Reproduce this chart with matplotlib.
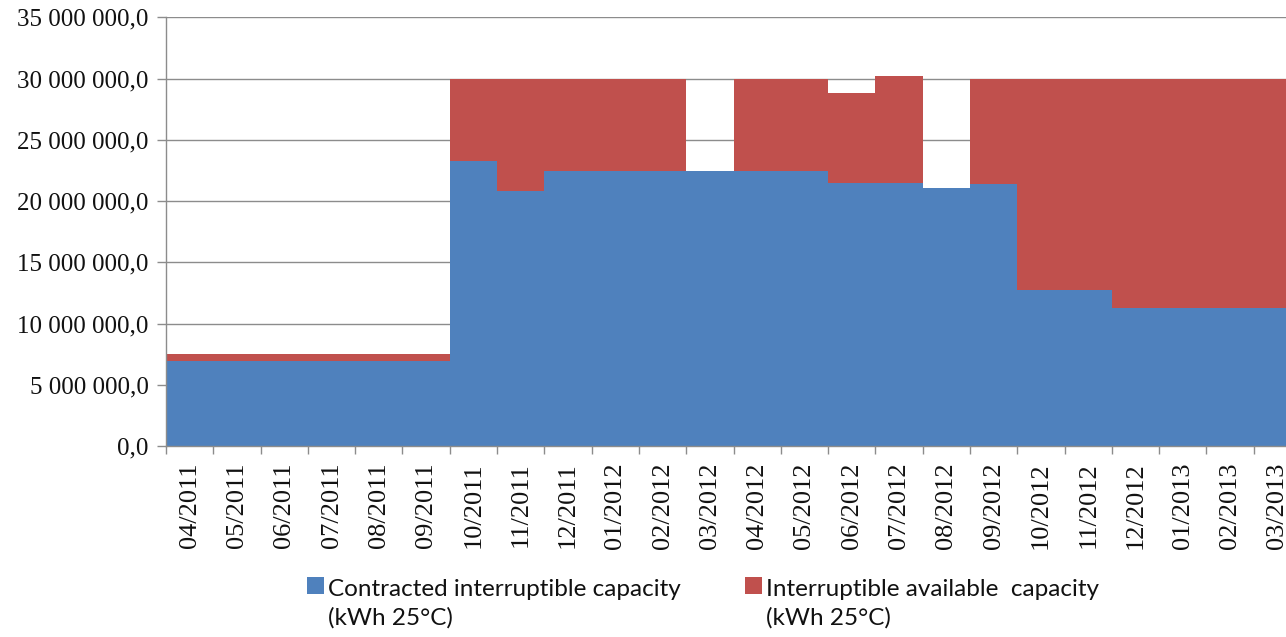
"""Interruptible capacity: contracted vs available, monthly stacked steps."""

import matplotlib
matplotlib.use("Agg")
import matplotlib.pyplot as plt
from matplotlib.patches import Rectangle
from matplotlib.ticker import FuncFormatter, MultipleLocator
import numpy as np

# Months shown on the x axis
MONTHS = [
    "04/2011", "05/2011", "06/2011", "07/2011", "08/2011", "09/2011",
    "10/2011", "11/2011", "12/2011", "01/2012", "02/2012", "03/2012",
    "04/2012", "05/2012", "06/2012", "07/2012", "08/2012", "09/2012",
    "10/2012", "11/2012", "12/2012", "01/2013", "02/2013", "03/2013",
]

# kWh 25°C
CONTRACTED = [
    6.9e6, 6.9e6, 6.9e6, 6.9e6, 6.9e6, 6.9e6,
    23.3e6, 20.85e6, 22.45e6, 22.45e6, 22.45e6, 22.45e6,
    22.45e6, 22.45e6, 21.45e6, 21.45e6, 21.05e6, 21.4e6,
    12.75e6, 12.75e6, 11.25e6, 11.25e6, 11.25e6, 11.25e6,
]
AVAILABLE = [
    0.6e6, 0.6e6, 0.6e6, 0.6e6, 0.6e6, 0.6e6,
    6.7e6, 9.15e6, 7.55e6, 7.55e6, 7.55e6, 0.0,
    7.55e6, 7.55e6, 7.35e6, 8.75e6, 0.0, 8.6e6,
    17.25e6, 17.25e6, 18.75e6, 18.75e6, 18.75e6, 18.75e6,
]

LEGEND_LABELS = [
    "Contracted interruptible capacity\n(kWh 25°C)",
    "Interruptible available  capacity\n(kWh 25°C)",
]

BLUE = "#4F81BD"
RED = "#C0504D"
GRID = "#8c8c8c"
TEXT = "#111111"

W, H = 1286, 637

contracted = np.array(CONTRACTED)
total = contracted + np.array(AVAILABLE)
edges = np.arange(len(MONTHS) + 1)

fig = plt.figure(figsize=(W / 100, H / 100), dpi=100)
# plot area runs a little past the right edge of the picture, as in the original
ax = fig.add_axes([166 / W, 1 - 446 / H, (1301 - 166) / W, (446 - 17.3) / H])

ax.stairs(contracted, edges, baseline=0, fill=True, color=BLUE, lw=0, zorder=2)
ax.stairs(total, edges, baseline=contracted, fill=True, color=RED, lw=0, zorder=2)

ax.set_xlim(0, len(MONTHS))
ax.set_ylim(0, 35e6)
ax.yaxis.set_major_locator(MultipleLocator(5e6))
ax.yaxis.set_major_formatter(
    FuncFormatter(lambda v, _: f"{v:,.1f}".replace(",", " ").replace(".", ","))
)
ax.grid(axis="y", color=GRID, lw=1.0, zorder=0)
ax.set_axisbelow(True)

ax.set_xticks(edges)
ax.set_xticklabels([])
ax.set_xticks(edges[:-1] + 0.5, labels=MONTHS, minor=True)

for s in ("top", "right"):
    ax.spines[s].set_visible(False)
for s in ("left", "bottom"):
    ax.spines[s].set_color(GRID)
    ax.spines[s].set_linewidth(1.0)

ax.tick_params(axis="y", which="major", direction="out", length=6.5, width=1,
               color=GRID, pad=6, labelsize=18, labelcolor=TEXT)
ax.tick_params(axis="x", which="major", direction="out", length=6, width=1,
               color=GRID)
ax.tick_params(axis="x", which="minor", length=0, pad=12, labelsize=19,
               labelcolor=TEXT, labelrotation=90)
for lbl in ax.get_yticklabels() + ax.get_xticklabels(minor=True):
    lbl.set_family("Liberation Serif")

# legend drawn by hand so the swatch sits beside the first line
for x0, color, label in zip((307, 745), (BLUE, RED), LEGEND_LABELS):
    fig.add_artist(Rectangle((x0 / W, 1 - 594 / H), 17 / W, 17 / H,
                             transform=fig.transFigure, color=color, lw=0))
    fig.text((x0 + 21) / W, 1 - 625 / H, label, family="Lato", fontsize=17.5,
             color=TEXT, va="baseline", ha="left", linespacing=1.4)

fig.savefig("out.png", dpi=100)
